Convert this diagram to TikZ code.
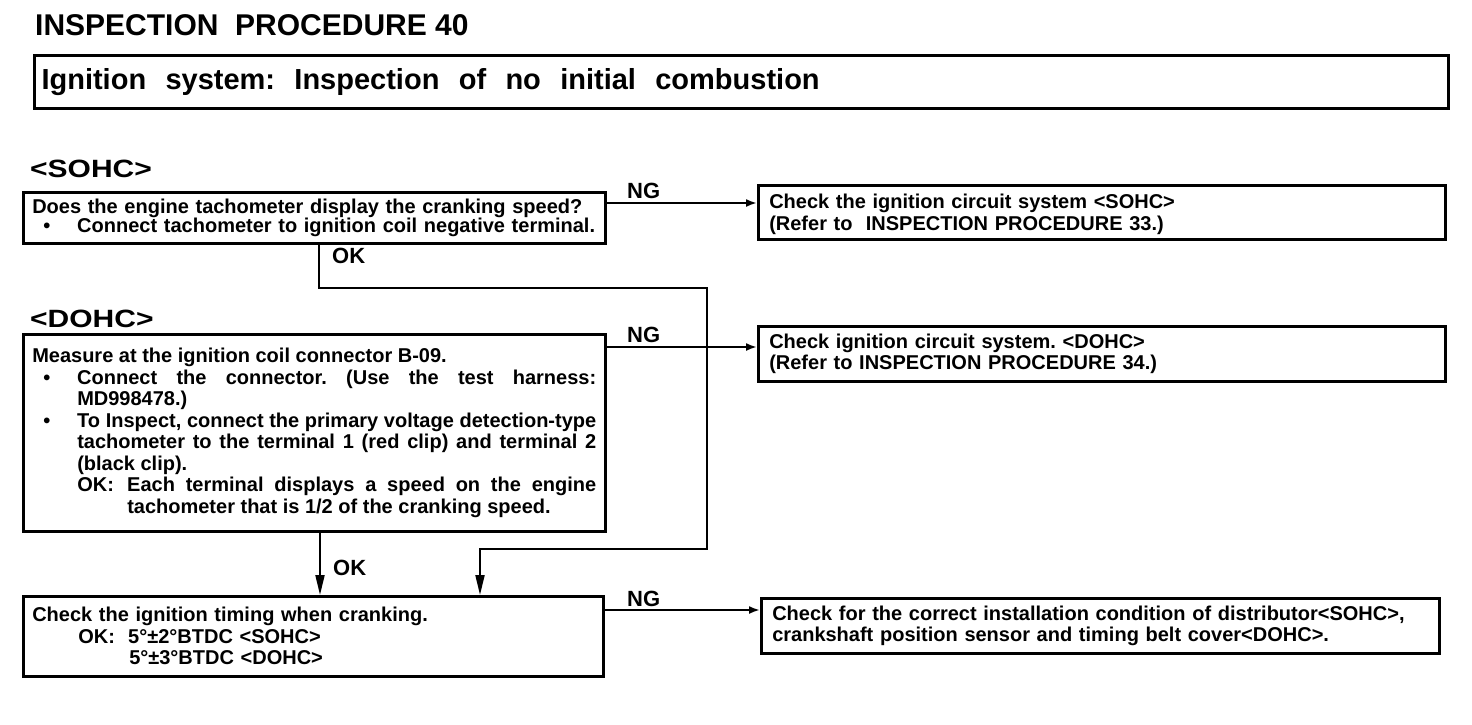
\documentclass[tikz,border=0pt]{standalone}
\usepackage{fontspec}
\setmainfont{Liberation Sans}
\usepackage{graphicx}
\usepackage{tikz}
\usetikzlibrary{arrows.meta, positioning, calc}
\frenchspacing
\newcommand\boxfont{\fontsize{20}{21.5}\selectfont\bfseries}
\newcommand\bul[1]{\par\hangindent=45pt\hangafter=1\noindent\makebox[45pt][l]{\hspace{11pt}\textbullet}#1\par}

\begin{document}
\begin{tikzpicture}[x=1pt, y=-1pt,
    chk/.style={draw, line width=2.5pt, anchor=north west, inner xsep=9pt, inner ysep=2pt, font=\boxfont},
    lnk/.style={line width=2pt},
    ngtip/.style={-{Latex[length=11pt,width=8pt]}},
    oktip/.style={-{Triangle[length=20pt,width=9pt]}},
    lbl/.style={inner sep=0pt, anchor=base west, font=\fontsize{22}{24}\selectfont\bfseries}]
    \useasboundingbox (0,0) rectangle (1472,724);

    % Heading
    \node[lbl, font=\fontsize{30}{32}\selectfont\bfseries] (title) at (35,35) {INSPECTION\ \ PROCEDURE 40};
    \node[chk, line width=3pt, minimum width=1414pt, minimum height=53pt, inner xsep=5pt, text width=1400pt, align=left,
          font=\fontsize{29}{30}\selectfont\bfseries] (head) at (33,54)
        {Ignition\ \ system:\ \ Inspection\ \ of\ \ no\ \ initial\ \ combustion};

    % SOHC check
    \node[lbl, font=\fontsize{25}{28}\selectfont\bfseries] (sohc) at (30,177) {\scalebox{1.2}[1]{<SOHC>}};
    \node[chk, text width=564pt, minimum height=51pt, align=left, font=\fontsize{20}{18.5}\selectfont\bfseries] (qA) at (22,191)
        {Does the engine tachometer display the cranking speed?\\
         \makebox[45pt][l]{\hspace{11pt}\textbullet}Connect tachometer to ignition coil negative terminal.};
    \node[chk, text width=665pt, inner xsep=11pt, minimum height=54pt, align=left] (rB) at (757,184)
        {\rule{0pt}{19pt}Check the ignition circuit system <SOHC>\\
         (Refer to\ \ INSPECTION PROCEDURE 33.)};

    % DOHC check
    \node[lbl, font=\fontsize{25}{28}\selectfont\bfseries] (dohc) at (30,327) {\scalebox{1.2}[1]{<DOHC>}};
    \node[chk, text width=564pt, minimum height=197pt, align=justify] (qC) at (22,333)
        {\noindent Measure at the ignition coil connector B-09.\par
         \bul{Connect the connector. (Use the test harness:\linebreak MD998478.)}
         \bul{To Inspect, connect the primary voltage detection-type\linebreak
              tachometer to the terminal 1 (red clip) and terminal 2\linebreak (black clip).}
         \leftskip=45pt\hangindent=50pt\hangafter=1\noindent\makebox[50pt][l]{OK:}Each terminal displays a speed on the engine\linebreak
         tachometer that is 1/2 of the cranking speed.\par};
    \node[chk, text width=665pt, inner xsep=11pt, minimum height=55pt, align=left] (rD) at (757,325)
        {Check ignition circuit system. <DOHC>\\
         (Refer to INSPECTION PROCEDURE 34.)};

    % Timing check
    \node[chk, text width=562pt, minimum height=80pt, align=left] (qE) at (22,595)
        {Check the ignition timing when cranking.\\
         \hspace*{46pt}OK:\ \ 5°±2°BTDC <SOHC>\\
         \hspace*{97pt}5°±3°BTDC <DOHC>};
    \node[chk, text width=656pt, inner xsep=11pt, minimum height=55pt, align=left] (rF) at (760,597)
        {Check for the correct installation condition of distributor<SOHC>,\\
         crankshaft position sensor and timing belt cover<DOHC>.};

    % NG branches
    \draw[lnk, ngtip] ($(qA.north east)+(0,12)$) -- ($(rB.north west)+(0,19)$);
    \draw[lnk, ngtip] ($(qC.north east)+(0,14)$) -- ($(rD.north west)+(0,22)$);
    \draw[lnk, ngtip] ($(qE.north east)+(0,15)$) -- ($(rF.north west)+(0,13)$);
    \node[lbl] (ngA) at (627,198) {NG};
    \node[lbl] (ngC) at (627,342) {NG};
    \node[lbl] (ngE) at (627,606) {NG};

    % OK branches
    \coordinate (jR) at (707,288);
    \coordinate (jD) at (480,549);
    \draw[lnk, oktip] ($(qA.south west)+(297,0)$) |- (jR) |- (jD) -- (qE.north -| jD);
    \draw[lnk, oktip] ($(qC.south west)+(298,0)$) -- ($(qE.north west)+(298,0)$);
    \node[lbl] (okA) at (332,263) {OK};
    \node[lbl] (okC) at (333,575) {OK};
\end{tikzpicture}
\end{document}
